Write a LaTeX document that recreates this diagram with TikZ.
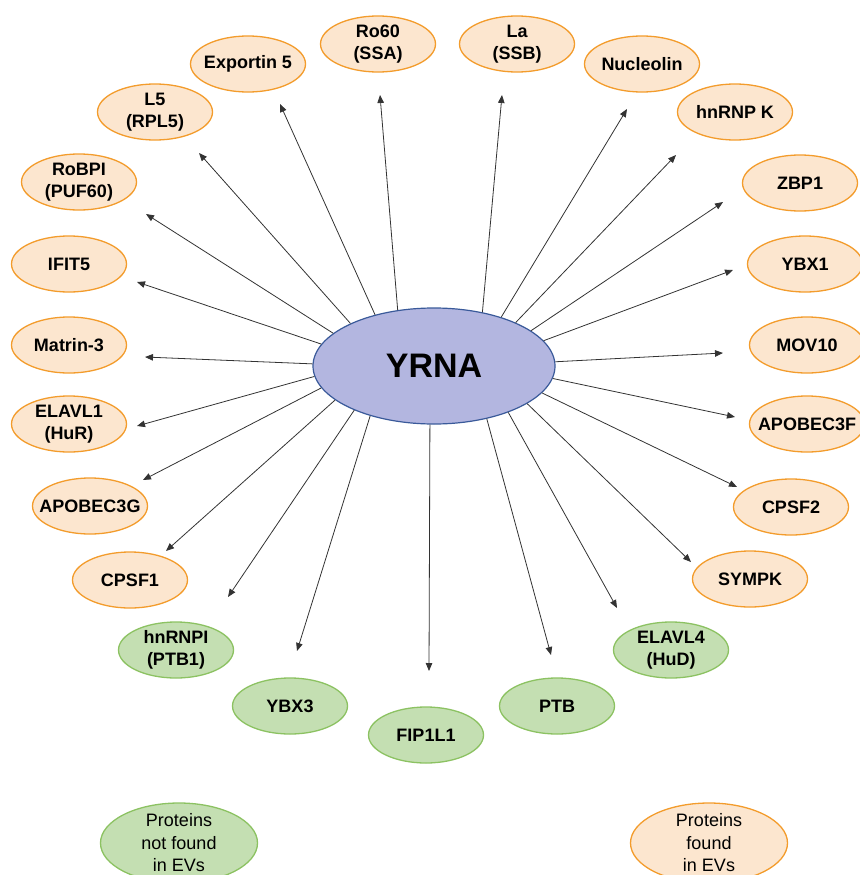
\documentclass[tikz,border=0pt]{standalone}
\usepackage{fontspec}
\setmainfont{Liberation Sans}
\usetikzlibrary{arrows.meta,shapes.geometric}
\definecolor{orfill}{HTML}{FCE6CF}
\definecolor{orline}{HTML}{F39C2C}
\definecolor{grfill}{HTML}{C4DFB2}
\definecolor{grline}{HTML}{8CC262}
\definecolor{cfill}{HTML}{B3B6E0}
\definecolor{cline}{HTML}{3A5A9A}
\begin{document}
\begin{tikzpicture}[x=1pt,y=-1pt,
 prot/.style={ellipse, draw, line width=1.3pt, minimum width=115pt, minimum height=56pt, inner xsep=-15pt, inner ysep=-5pt, align=center, font=\fontsize{18}{22}\selectfont\bfseries},
 ev/.style={prot, draw=orline, fill=orfill},
 nev/.style={prot, draw=grline, fill=grfill},
 legend/.style={ellipse, draw, line width=1.3pt, minimum width=157pt, minimum height=80pt, inner xsep=-20pt, inner ysep=-20pt, align=center, font=\fontsize{18}{22.5}\selectfont},
 arr/.style={draw=black!80, line width=0.8pt, -{Triangle[length=8pt,width=6.5pt]}}]
\useasboundingbox (0,0) rectangle (859,875);

\node[ellipse, draw=cline, fill=cfill, line width=1.2pt, minimum width=242pt, minimum height=116pt, font=\fontsize{34}{40}\selectfont\bfseries] (yrna) at (434,366) {YRNA};

\node[ev] (ro) at (378,44) {Ro60\\(SSA)};
\node[ev] (la) at (517,44) {La\\(SSB)};
\node[ev] (exp) at (248,64) {Exportin 5};
\node[ev] (nuc) at (642,64) {Nucleolin};
\node[ev] (l5) at (155,112) {L5\\(RPL5)};
\node[ev] (hnk) at (735,112) {hnRNP K};
\node[ev] (robpi) at (79,182) {RoBPI\\(PUF60)};
\node[ev] (zbp) at (800,183) {ZBP1};
\node[ev] (ifit) at (69,264) {IFIT5};
\node[ev] (ybx1) at (805,264) {YBX1};
\node[ev] (mat) at (69,345) {Matrin-3};
\node[ev] (mov) at (807,345) {MOV10};
\node[ev] (elavla) at (69,424) {ELAVL1\\(HuR)};
\node[ev] (apof) at (807,424) {APOBEC3F};
\node[ev] (apog) at (90,506) {APOBEC3G};
\node[ev] (cpsfb) at (791,507) {CPSF2};
\node[ev] (cpsfa) at (130,580) {CPSF1};
\node[ev] (sympk) at (750,579) {SYMPK};
\node[nev] (hnrnpi) at (176,650) {hnRNPI\\(PTB1)};
\node[nev] (elavld) at (671,650) {ELAVL4\\(HuD)};
\node[nev] (ybx3) at (290,706) {YBX3};
\node[nev] (ptb) at (557,706) {PTB};
\node[nev] (fip) at (426,735) {FIP1L1};

\node[legend, draw=grline, fill=grfill] (lgn) at (179,843) {Proteins\\not found\\in EVs};
\node[legend, draw=orline, fill=orfill] (lgf) at (709,843) {Proteins\\found\\in EVs};

\coordinate (tro) at (380,95);
\coordinate (tla) at (502,95);
\coordinate (texp) at (280,104);
\coordinate (tnuc) at (627,109);
\coordinate (tl5) at (199,153);
\coordinate (thnk) at (676,155);
\coordinate (trobpi) at (146,214);
\coordinate (tzbp) at (723,202);
\coordinate (tifit) at (137,282);
\coordinate (tybx1) at (733,270);
\coordinate (tmat) at (145,357);
\coordinate (tmov) at (723,353);
\coordinate (telavla) at (137,426);
\coordinate (tapof) at (735,417);
\coordinate (tapog) at (143,480);
\coordinate (tcpsfb) at (737,487);
\coordinate (tcpsfa) at (166,551);
\coordinate (tsympk) at (691,562);
\coordinate (thnrnpi) at (228,597);
\coordinate (telavld) at (617,608);
\coordinate (tybx3) at (297,651);
\coordinate (tptb) at (551,655);
\coordinate (tfip) at (429,671);

\draw[arr] (yrna.123) -- (tro);
\draw[arr] (yrna.48) -- (tla);
\draw[arr] (yrna.139) -- (texp);
\draw[arr] (yrna.36) -- (tnuc);
\draw[arr] (yrna.153) -- (tl5);
\draw[arr] (yrna.28) -- (thnk);
\draw[arr] (yrna.162) -- (trobpi);
\draw[arr] (yrna.20) -- (tzbp);
\draw[arr] (yrna.169) -- (tifit);
\draw[arr] (yrna.13) -- (tybx1);
\draw[arr] (yrna.179) -- (tmat);
\draw[arr] (yrna.2) -- (tmov);
\draw[arr] (yrna.185) -- (telavla);
\draw[arr] (yrna.-6) -- (tapof);
\draw[arr] (yrna.191) -- (tapog);
\draw[arr] (yrna.-14) -- (tcpsfb);
\draw[arr] (yrna.199) -- (tcpsfa);
\draw[arr] (yrna.-22) -- (tsympk);
\draw[arr] (yrna.209) -- (thnrnpi);
\draw[arr] (yrna.-32) -- (telavld);
\draw[arr] (yrna.218) -- (tybx3);
\draw[arr] (yrna.-45) -- (tptb);
\draw[arr] (yrna.266) -- (tfip);
\end{tikzpicture}
\end{document}
